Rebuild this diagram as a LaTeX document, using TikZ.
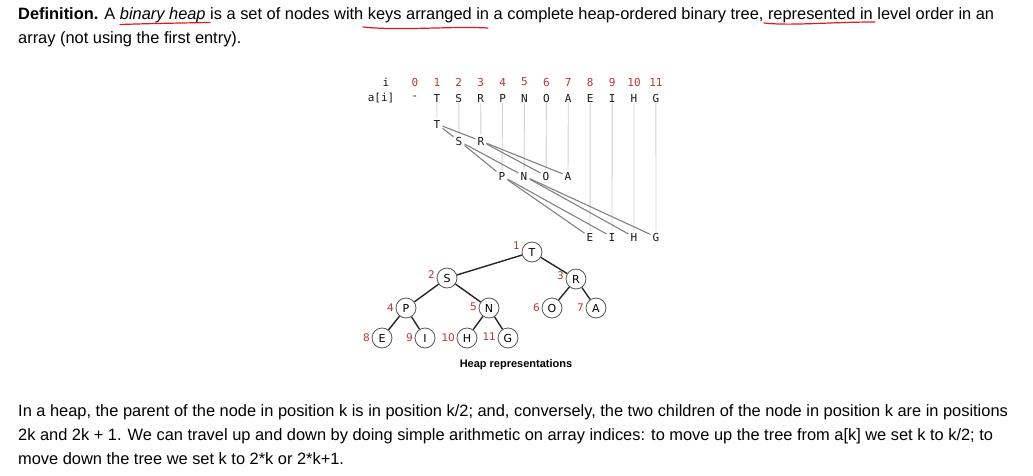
\documentclass[tikz,border=0pt]{standalone}
\usepackage{fontspec}
\setmainfont{Liberation Sans}
\newfontfamily\arrfont{DejaVu Sans Mono}
\newfontfamily\treefont{DejaVu Sans}
\usetikzlibrary{arrows.meta, positioning}
\definecolor{idxred}{RGB}{185,55,55}
\definecolor{linkgray}{RGB}{130,130,130}
\definecolor{vgray}{RGB}{210,210,210}
\definecolor{inkred}{RGB}{225,25,25}
\tikzstyle{para}=[anchor=base west, inner sep=0pt,
  font=\fontsize{16.4}{19}\selectfont, text=black]
\tikzstyle{idx}=[inner sep=0pt, font=\arrfont\fontsize{11}{12}\selectfont,
  text=idxred]
\tikzstyle{arr}=[inner sep=0.5pt, font=\arrfont\fontsize{11}{12}\selectfont,
  text=black!90]
\tikzstyle{hnode}=[circle, draw=black!65, fill=white, line width=0.8pt,
  minimum size=20pt, inner sep=0pt, font=\treefont\fontsize{11}{12}\selectfont]
\tikzstyle{hlab}=[inner sep=0pt, font=\treefont\fontsize{10.5}{11}\selectfont,
  text=idxred]
\tikzstyle{vline}=[draw=vgray, line width=0.9pt]
\tikzstyle{glink}=[draw=linkgray, line width=1.1pt]
\tikzstyle{tedge}=[draw=black!85, line width=1.4pt]
\tikzstyle{uline}=[draw=inkred, line width=1.2pt, line cap=round]

\begin{document}
\begin{tikzpicture}[x=1pt, y=-1pt]
  \fill[white] (0,0) rectangle (1033,476);
  \useasboundingbox (0,0) rectangle (1033,476);

  % definition text
  \node[para] (def1) at (18,20)
    {\textbf{Definition.} A \textit{binary heap} is a set of nodes with keys arranged in a complete heap-ordered binary tree, represented in level order in an};
  \node[para] (def2) at (18,44) {array (not using the first entry).};
  \draw[uline] (120,24.5) .. controls (150,23.5) and (180,23) .. (210,22.5);
  \draw[uline] (363,27) .. controls (400,31) and (450,26) .. (488,28);
  \draw[uline] (764,23) .. controls (790,26) and (830,22) .. (875,22);

  % array
  \node[arr] (ihead) at (386,82) {i};
  \node[arr] (ahead) at (381,98) {a[i]};
  \foreach \i/\c in {0/-,1/T,2/S,3/R,4/P,5/N,6/O,7/A,8/E,9/I,10/H,11/G}{
    \node[idx] (idx\i) at ({415+21.9*\i},82) {\i};
    \node[arr] (val\i) at ({415+21.9*\i},98) {\c};
  }

  % level order
  \foreach \i/\c/\x/\y in {1/T/437/124, 2/S/459/141, 3/R/481/141,
    4/P/502/176, 5/N/524/176, 6/O/546/176, 7/A/568/176,
    8/E/590/237, 9/I/612/237, 10/H/634/237, 11/G/656/237}{
    \node[arr, inner sep=2pt] (lvl\i) at (\x,\y) {\c};
  }
  \foreach \i in {1,...,11}
    \draw[vline] (val\i) -- (lvl\i);
  \foreach \p/\a/\b in {1/2/3, 2/4/5, 3/6/7, 4/8/9, 5/10/11}{
    \draw[glink] (lvl\p) -- (lvl\a);
    \draw[glink] (lvl\p) -- (lvl\b);
  }

  % heap tree
  \foreach \k/\c/\x/\y/\up in {1/T/532/252/6, 2/S/447/278/3, 3/R/576/279/3,
    4/P/406/308/0, 5/N/489/308/1, 6/O/552/308/0, 7/A/596/308/0,
    8/E/382/338/0, 9/I/425/338/0, 10/H/467/338/0, 11/G/508/338/1}{
    \node[hnode] (h\k) at (\x,\y) {\c};
    \node[hlab, left=1.5pt of h\k, yshift=\up pt] (n\k) {\k};
  }
  \foreach \p/\a/\b in {1/2/3, 2/4/5, 3/6/7, 4/8/9, 5/10/11}{
    \draw[tedge] (h\p) -- (h\a);
    \draw[tedge] (h\p) -- (h\b);
  }
  \node[font=\bfseries\fontsize{11}{12}\selectfont] (cap) at (516,365)
    {Heap representations};

  % explanation text
  \node[para] (txt1) at (18,416.5)
    {In a heap, the parent of the node in position k is in position k/2; and, conversely, the two children of the node in position k are in positions};
  \node[para] (txt2) at (18,440.5)
    {2k and 2k + 1. We can travel up and down by doing simple arithmetic on array indices: to move up the tree from a[k] we set k to k/2; to};
  \node[para] (txt3) at (18,464.5) {move down the tree we set k to 2*k or 2*k+1.};
\end{tikzpicture}
\end{document}
